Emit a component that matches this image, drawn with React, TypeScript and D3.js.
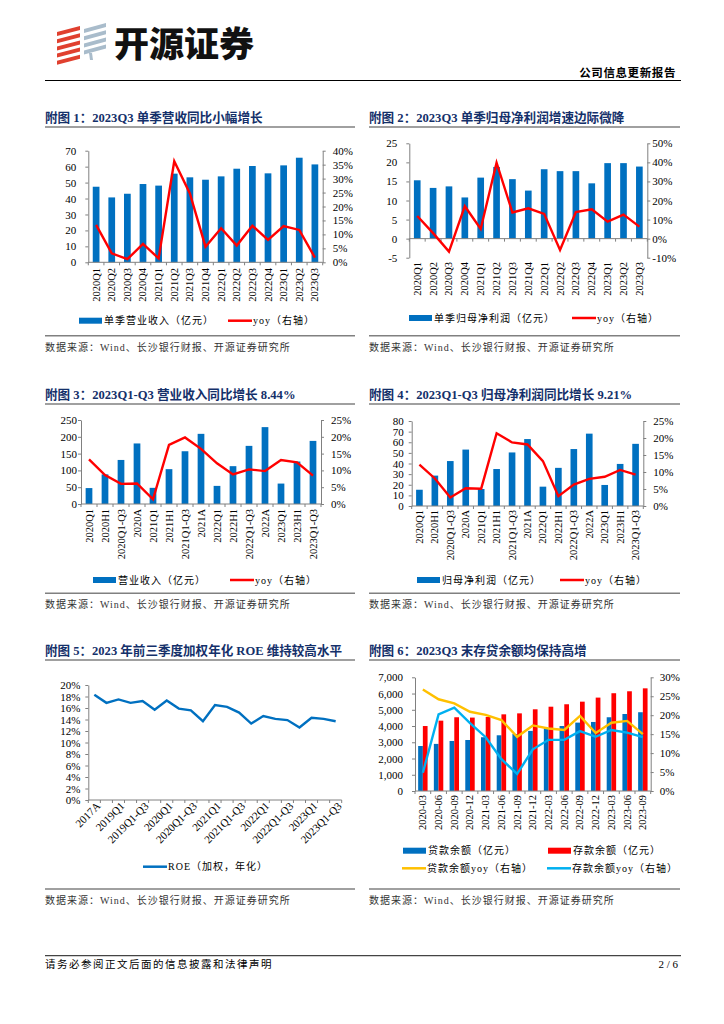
import React, { useEffect, useRef } from 'react';
import * as d3 from 'd3';

const quarters = ['2020Q1', '2020Q2', '2020Q3', '2020Q4', '2021Q1', '2021Q2', '2021Q3', '2021Q4', '2022Q1', '2022Q2', '2022Q3', '2022Q4', '2023Q1', '2023Q2', '2023Q3'];
const revenueQ = [47.4, 40.7, 43.0, 49.1, 48.1, 55.6, 53.3, 51.8, 53.9, 58.7, 60.4, 55.8, 60.8, 65.6, 61.4];
const revenueQYoy = [13.4, 3.2, 1.1, 6.6, 1.4, 36.2, 24.7, 5.6, 12.2, 6.0, 13.1, 8.0, 13.0, 11.6, 1.7];
const profitQ = [15.3, 13.3, 13.7, 10.8, 16.0, 18.8, 15.6, 12.6, 18.2, 17.7, 17.7, 14.5, 19.8, 19.8, 18.9];
const profitQYoy = [11.9, 2.9, -6.8, 17.0, 5.1, 39.8, 13.7, 15.9, 13.0, -6.0, 13.9, 15.4, 8.9, 12.6, 6.3];

const periods = ['2020Q1', '2020H1', '2020Q1-Q3', '2020A', '2021Q1', '2021H1', '2021Q1-Q3', '2021A', '2022Q1', '2022H1', '2022Q1-Q3', '2022A', '2023Q1', '2023H1', '2023Q1-Q3'];
const revenueCum = [47.4, 88.1, 131.1, 180.2, 48.1, 103.7, 157.0, 208.8, 53.9, 112.6, 173.0, 228.8, 60.8, 126.4, 187.8];
const revenueCumYoy = [13.3, 8.6, 6.0, 6.1, 1.4, 17.6, 19.8, 16.4, 12.1, 8.8, 10.3, 9.8, 13.1, 12.4, 8.44];
const profitCum = [15.3, 28.6, 42.3, 53.1, 16.0, 34.8, 50.4, 63.0, 18.2, 35.9, 53.6, 68.1, 19.8, 39.6, 58.5];
const profitCumYoy = [12.2, 8.1, 2.5, 5.2, 5.1, 21.4, 18.7, 18.1, 13.2, 2.9, 6.3, 8.0, 8.6, 10.6, 9.21];

const roePeriods = ['2017A', '2018A', '2019Q1', '2019H1', '2019Q1-Q3', '2019A', '2020Q1', '2020H1', '2020Q1-Q3', '2020A', '2021Q1', '2021H1', '2021Q1-Q3', '2021A', '2022Q1', '2022H1', '2022Q1-Q3', '2022A', '2023Q1', '2023H1', '2023Q1-Q3'];
const roe = [18.3, 16.9, 17.5, 16.9, 17.2, 15.7, 17.3, 15.9, 15.6, 13.7, 16.5, 16.2, 15.2, 13.3, 14.6, 14.1, 13.9, 12.6, 14.3, 14.1, 13.7];

const months = ['2020-03', '2020-06', '2020-09', '2020-12', '2021-03', '2021-06', '2021-09', '2021-12', '2022-03', '2022-06', '2022-09', '2022-12', '2023-03', '2023-06', '2023-09'];
const loans = [2770, 2900, 3080, 3140, 3310, 3430, 3510, 3700, 3860, 4000, 4210, 4250, 4540, 4740, 4850];
const deposits = [4000, 4330, 4540, 4520, 4560, 4720, 4780, 5030, 5190, 5340, 5500, 5750, 6020, 6140, 6320];
const loansYoy = [26.8, 24.2, 23.1, 20.9, 20.1, 18.7, 14.3, 17.3, 16.5, 16.1, 19.8, 15.3, 18.0, 18.5, 15.0];
const depositsYoy = [4.8, 20.2, 22.0, 17.9, 14.2, 8.4, 4.5, 11.0, 13.5, 13.5, 15.8, 14.3, 16.1, 15.4, 14.2];

const SERIF = "'Liberation Serif', 'Times New Roman', 'Noto Sans CJK SC', serif";
const BLUE = '#0070c0';
const RED = '#ff0000';
const ORANGE = '#ffc000';
const SKY = '#00b0f0';
const AXIS = '#808080';
const NAVY = '#14306a';
const SOURCE = '数据来源：Wind、长沙银行财报、开源证券研究所';

type Series = { values: number[]; color: string; axis?: 'left' | 'right' };

interface ChartCfg {
  cats: string[];
  bars: Series[];
  lines: Series[];
  x0: number; x1: number; yTop: number; yBottom: number;
  left: [number, number]; leftStep: number; leftFmt: (v: number) => string; leftGap: number;
  right?: [number, number]; rightStep?: number; rightGap?: number;
  barFrac: number;
  labelY: number;
  rotate: number;
  labelEvery?: number;
}

const pct = (v: number) => `${v}%`;

function styleAxis(sel: any) {
  sel.attr('font-family', SERIF).attr('font-size', 11);
  sel.select('.domain').attr('stroke', AXIS);
  sel.selectAll('.tick line').attr('stroke', AXIS);
  sel.selectAll('.tick text').attr('fill', '#000');
}

function drawChart(svg: any, c: ChartCfg) {
  const g = svg.append('g');
  const x = d3.scaleBand<string>().domain(c.cats).range([c.x0, c.x1]);
  const bw = x.bandwidth();
  const cx = (i: number) => (x(c.cats[i]) ?? 0) + bw / 2;
  const yL = d3.scaleLinear().domain(c.left).range([c.yBottom, c.yTop]);
  const yR = c.right ? d3.scaleLinear().domain(c.right).range([c.yBottom, c.yTop]) : yL;
  const w = bw * c.barFrac;

  c.bars.forEach((s, k) => {
    g.append('g').selectAll('rect').data(s.values).join('rect')
      .attr('x', (_: number, i: number) => cx(i) - (c.bars.length * w) / 2 + k * w)
      .attr('y', (v: number) => Math.min(yL(v), yL(0)))
      .attr('width', w)
      .attr('height', (v: number) => Math.abs(yL(0) - yL(v)))
      .attr('fill', s.color);
  });

  const leftAxis = d3.axisLeft(yL)
    .tickValues(d3.range(c.left[0], c.left[1] + c.leftStep / 2, c.leftStep))
    .tickFormat((d) => c.leftFmt(+d))
    .tickSize(3).tickSizeOuter(0).tickPadding(c.leftGap - 3);
  styleAxis(g.append('g').attr('transform', `translate(${c.x0},0)`).call(leftAxis));

  if (c.right && c.rightStep) {
    const rightAxis = d3.axisRight(yR)
      .tickValues(d3.range(c.right[0], c.right[1] + c.rightStep / 2, c.rightStep))
      .tickFormat((d) => pct(+d))
      .tickSize(3).tickSizeOuter(0).tickPadding((c.rightGap ?? 6) - 3);
    styleAxis(g.append('g').attr('transform', `translate(${c.x1},0)`).call(rightAxis));
  }

  // category axis at zero
  const y0 = yL(0);
  g.append('line').attr('x1', c.x0).attr('x2', c.x1).attr('y1', y0).attr('y2', y0)
    .attr('stroke', AXIS);
  g.append('g').selectAll('line').data(d3.range(c.cats.length + 1)).join('line')
    .attr('x1', (i: number) => c.x0 + i * x.step())
    .attr('x2', (i: number) => c.x0 + i * x.step())
    .attr('y1', y0).attr('y2', y0 + 3)
    .attr('stroke', AXIS);

  const every = c.labelEvery ?? 1;
  c.cats.forEach((cat, i) => {
    if (i % every !== 0) return;
    const t = g.append('text')
      .attr('font-family', SERIF).attr('fill', '#000')
      .attr('text-anchor', 'end')
      .text(cat);
    if (c.rotate === -90) {
      t.attr('font-size', 10.5).attr('transform', `translate(${cx(i) + 3.5},${c.labelY}) rotate(-90)`);
    } else {
      t.attr('font-size', 11).attr('transform', `translate(${cx(i) + 4},${c.labelY}) rotate(${c.rotate})`).attr('dy', '0.35em');
    }
  });

  c.lines.forEach((s) => {
    const sc = s.axis === 'left' ? yL : yR;
    const line = d3.line<number>().x((_, i) => cx(i)).y((v) => sc(v));
    g.append('path').attr('d', line(s.values)).attr('fill', 'none')
      .attr('stroke', s.color).attr('stroke-width', 2.4);
  });
}

type LegendItem = { x: number; y: number; kind: 'rect' | 'line'; color: string; label: string };

function drawLegend(svg: any, items: LegendItem[]) {
  items.forEach((it) => {
    if (it.kind === 'rect') {
      svg.append('rect').attr('x', it.x).attr('y', it.y - 3).attr('width', 23).attr('height', 6).attr('fill', it.color);
    } else {
      svg.append('line').attr('x1', it.x).attr('x2', it.x + 24).attr('y1', it.y).attr('y2', it.y)
        .attr('stroke', it.color).attr('stroke-width', 2.5);
    }
    svg.append('text').attr('x', it.x + 25).attr('y', it.y + 3.6)
      .attr('font-family', SERIF).attr('font-size', 10).attr('letter-spacing', 1).attr('fill', '#000')
      .text(it.label);
  });
}

function drawFrame(svg: any, x: number, w: number, titleY: number, title: string, srcY: number, titleLen?: number) {
  const t = svg.append('text').attr('x', x).attr('y', titleY)
    .attr('font-family', SERIF).attr('font-weight', 'bold').attr('font-size', 12.6).attr('fill', NAVY)
    .text(title);
  if (titleLen) t.attr('textLength', titleLen).attr('lengthAdjust', 'spacingAndGlyphs');
  svg.append('line').attr('x1', x).attr('x2', x + w).attr('y1', titleY + 5.5).attr('y2', titleY + 5.5)
    .attr('stroke', AXIS).attr('stroke-width', 1.5);
  svg.append('line').attr('x1', x).attr('x2', x + w).attr('y1', srcY).attr('y2', srcY)
    .attr('stroke', AXIS).attr('stroke-width', 1.5);
  svg.append('text').attr('x', x).attr('y', srcY + 15)
    .attr('font-family', SERIF).attr('font-size', 10).attr('letter-spacing', 1).attr('fill', '#333')
    .text(SOURCE);
}

function drawHeader(svg: any) {
  const red = '#e0402f';
  const grey = '#a9bccb';
  d3.range(5).forEach((i) => {
    const y = 27 + i * 7.2;
    svg.append('polygon').attr('points', `57,${y + 5} 80,${y - 1} 80,${y + 3} 57,${y + 9}`).attr('fill', red);
  });
  d3.range(4).forEach((i) => {
    const y = 24 + i * 7.2;
    svg.append('polygon').attr('points', `84,${y + 5} 106,${y - 1} 106,${y + 3} 84,${y + 9}`).attr('fill', grey);
  });
  svg.append('polygon').attr('points', '89,53 92,53 93,60 90,60').attr('fill', grey);
  svg.append('text').attr('x', 114).attr('y', 57)
    .attr('font-family', "'Noto Sans CJK SC', sans-serif").attr('font-weight', 900).attr('font-size', 35)
    .attr('fill', '#111').text('开源证券');
  svg.append('text').attr('x', 676).attr('y', 77).attr('text-anchor', 'end')
    .attr('font-family', SERIF).attr('font-weight', 'bold').attr('font-size', 11.5).attr('letter-spacing', 0.6).attr('fill', '#000')
    .text('公司信息更新报告');
  svg.append('line').attr('x1', 45).attr('x2', 681).attr('y1', 80.5).attr('y2', 80.5)
    .attr('stroke', '#000').attr('stroke-width', 1.2);

  svg.append('line').attr('x1', 45).attr('x2', 681).attr('y1', 955.7).attr('y2', 955.7)
    .attr('stroke', '#444').attr('stroke-width', 1.2);
  svg.append('text').attr('x', 45).attr('y', 967.5)
    .attr('font-family', SERIF).attr('font-size', 10.5).attr('letter-spacing', 1.5).attr('fill', '#000')
    .text('请务必参阅正文后面的信息披露和法律声明');
  svg.append('text').attr('x', 678).attr('y', 967.5).attr('text-anchor', 'end')
    .attr('font-family', SERIF).attr('font-size', 11).attr('fill', '#000')
    .text('2 / 6');
}

const App: React.FC = () => {
  const svgRef = useRef<SVGSVGElement>(null);

  useEffect(() => {
    if (!svgRef.current) return;
    const svg = d3.select(svgRef.current);
    svg.selectAll('*').remove();

    drawHeader(svg);

    // row 1
    drawFrame(svg, 45, 310, 121.5, '附图 1：2023Q3 单季营收同比小幅增长', 335.7);
    drawFrame(svg, 369, 311, 121.5, '附图 2：2023Q3 单季归母净利润增速边际微降', 335.7);
    // row 2
    drawFrame(svg, 45, 310, 398.5, '附图 3：2023Q1-Q3 营业收入同比增长 8.44%', 593.3);
    drawFrame(svg, 369, 311, 398.5, '附图 4：2023Q1-Q3 归母净利润同比增长 9.21%', 593.3);
    // row 3
    drawFrame(svg, 45, 310, 654.5, '附图 5：2023 年前三季度加权年化 ROE 维持较高水平', 889, 297);
    drawFrame(svg, 369, 311, 654.5, '附图 6：2023Q3 末存贷余额均保持高增', 889);

    drawChart(svg, {
      cats: quarters,
      bars: [{ values: revenueQ, color: BLUE }],
      lines: [{ values: revenueQYoy, color: RED }],
      x0: 88.3, x1: 322.7, yTop: 150.7, yBottom: 262.3,
      left: [0, 70], leftStep: 10, leftFmt: String, leftGap: 12,
      right: [0, 40], rightStep: 5, rightGap: 10,
      barFrac: 0.43, labelY: 268, rotate: -90,
    });
    drawLegend(svg, [
      { x: 79, y: 320.7, kind: 'rect', color: BLUE, label: '单季营业收入（亿元）' },
      { x: 228, y: 320.7, kind: 'line', color: RED, label: 'yoy（右轴）' },
    ]);

    drawChart(svg, {
      cats: quarters,
      bars: [{ values: profitQ, color: BLUE }],
      lines: [{ values: profitQYoy, color: RED }],
      x0: 409.3, x1: 647.3, yTop: 143.3, yBottom: 257.7,
      left: [-5, 25], leftStep: 5, leftFmt: String, leftGap: 12,
      right: [-10, 50], rightStep: 10, rightGap: 5,
      barFrac: 0.42, labelY: 262, rotate: -90,
    });
    drawLegend(svg, [
      { x: 409, y: 318, kind: 'rect', color: BLUE, label: '单季归母净利润（亿元）' },
      { x: 572, y: 318, kind: 'line', color: RED, label: 'yoy（右轴）' },
    ]);

    drawChart(svg, {
      cats: periods,
      bars: [{ values: revenueCum, color: BLUE }],
      lines: [{ values: revenueCumYoy, color: RED }],
      x0: 81, x1: 321, yTop: 420, yBottom: 504,
      left: [0, 250], leftStep: 50, leftFmt: String, leftGap: 4,
      right: [0, 25], rightStep: 5, rightGap: 10,
      barFrac: 0.42, labelY: 509, rotate: -90,
    });
    drawLegend(svg, [
      { x: 93, y: 580, kind: 'rect', color: BLUE, label: '营业收入（亿元）' },
      { x: 230, y: 580, kind: 'line', color: RED, label: 'yoy（右轴）' },
    ]);

    drawChart(svg, {
      cats: periods,
      bars: [{ values: profitCum, color: BLUE }],
      lines: [{ values: profitCumYoy, color: RED }],
      x0: 411.7, x1: 643.3, yTop: 421, yBottom: 506,
      left: [0, 80], leftStep: 10, leftFmt: String, leftGap: 8,
      right: [0, 25], rightStep: 5, rightGap: 10,
      barFrac: 0.43, labelY: 510, rotate: -90,
    });
    drawLegend(svg, [
      { x: 417, y: 580, kind: 'rect', color: BLUE, label: '归母净利润（亿元）' },
      { x: 560, y: 580, kind: 'line', color: RED, label: 'yoy（右轴）' },
    ]);

    drawChart(svg, {
      cats: roePeriods,
      bars: [],
      lines: [{ values: roe, color: BLUE, axis: 'left' }],
      x0: 88.3, x1: 341.7, yTop: 685, yBottom: 800,
      left: [0, 20], leftStep: 2, leftFmt: pct, leftGap: 8,
      barFrac: 0, labelY: 804, rotate: -45, labelEvery: 2,
    });
    drawLegend(svg, [
      { x: 143, y: 866.7, kind: 'line', color: BLUE, label: 'ROE（加权，年化）' },
    ]);

    drawChart(svg, {
      cats: months,
      bars: [{ values: loans, color: BLUE }, { values: deposits, color: RED }],
      lines: [{ values: loansYoy, color: ORANGE }, { values: depositsYoy, color: SKY }],
      x0: 415, x1: 650.7, yTop: 677.3, yBottom: 791,
      left: [0, 7000], leftStep: 1000, leftFmt: d3.format(','), leftGap: 12,
      right: [0, 30], rightStep: 5, rightGap: 9,
      barFrac: 0.3, labelY: 795, rotate: -90,
    });
    drawLegend(svg, [
      { x: 403, y: 850.7, kind: 'rect', color: BLUE, label: '贷款余额（亿元）' },
      { x: 548, y: 850.7, kind: 'rect', color: RED, label: '存款余额（亿元）' },
      { x: 402, y: 868.3, kind: 'line', color: ORANGE, label: '贷款余额yoy（右轴）' },
      { x: 547, y: 868.3, kind: 'line', color: SKY, label: '存款余额yoy（右轴）' },
    ]);
  }, []);

  return (
    <div style={{ position: 'absolute', left: 0, top: 0, background: '#fff' }}>
      <svg ref={svgRef} width={724} height={1024} style={{ display: 'block' }} />
    </div>
  );
};

export default App;
